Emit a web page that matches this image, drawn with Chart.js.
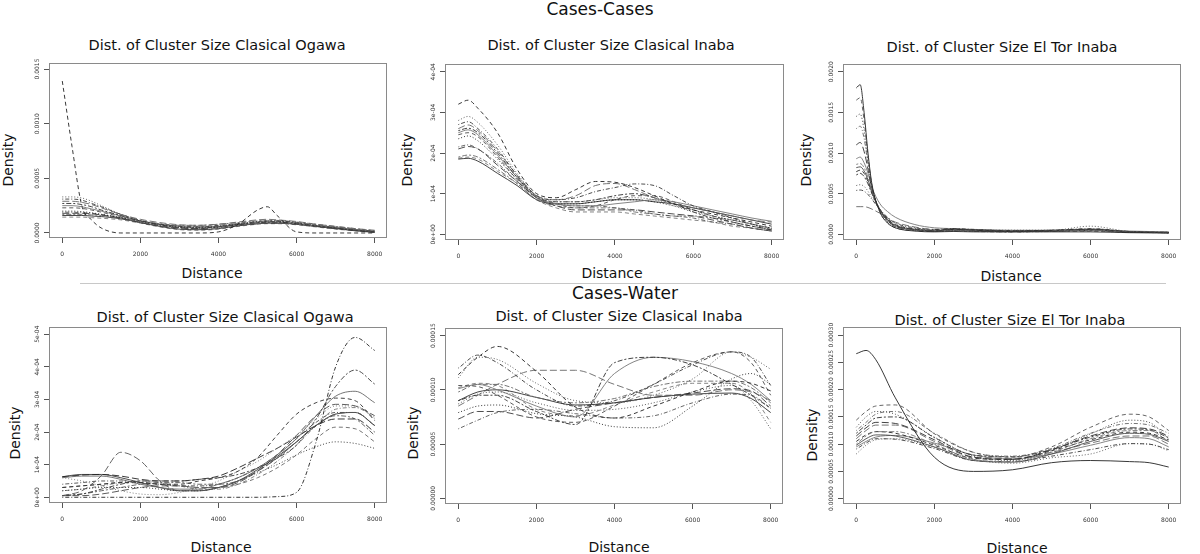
<!DOCTYPE html>
<html>
<head>
<meta charset="utf-8">
<title>Dist. of Cluster Size</title>
<script src="https://cdn.jsdelivr.net/npm/chart.js@4.4.1/dist/chart.umd.min.js"></script>
<style>
  body { margin: 0; background: #fff; }
  #page { position: relative; width: 1200px; height: 554px; overflow: hidden; font-family: 'DejaVu Sans', sans-serif; color: #111; }
  .lbl { position: absolute; white-space: nowrap; line-height: 1; transform: translate(-50%, -50%); }
  .main { font-size: 17px; }
  .title { font-size: 14.5px; }
  .axis { font-size: 14px; }
  .ylab { transform: translate(-50%, -50%) rotate(-90deg); }
  canvas { position: absolute; }
  #rule { position: absolute; left: 80px; top: 283px; width: 1086px; border-top: 1px solid #c8c8c8; }
</style>
</head>
<body>
<div id="page">
  <div class="lbl main" style="left:600px;top:9px">Cases-Cases</div>
  <div id="rule"></div>
  <div class="lbl main" style="left:625px;top:293px">Cases-Water</div>

  <div class="lbl title" style="left:217px;top:45px">Dist. of Cluster Size Clasical Ogawa</div>
  <div class="lbl title" style="left:611px;top:45px">Dist. of Cluster Size Clasical Inaba</div>
  <div class="lbl title" style="left:1002px;top:47px">Dist. of Cluster Size El Tor Inaba</div>
  <div class="lbl title" style="left:225px;top:317px">Dist. of Cluster Size Clasical Ogawa</div>
  <div class="lbl title" style="left:619px;top:316px">Dist. of Cluster Size Clasical Inaba</div>
  <div class="lbl title" style="left:1010px;top:320px">Dist. of Cluster Size El Tor Inaba</div>

  <div class="lbl axis" style="left:212px;top:273px">Distance</div>
  <div class="lbl axis" style="left:612px;top:273px">Distance</div>
  <div class="lbl axis" style="left:1011px;top:276px">Distance</div>
  <div class="lbl axis" style="left:221px;top:547px">Distance</div>
  <div class="lbl axis" style="left:619px;top:547px">Distance</div>
  <div class="lbl axis" style="left:1017px;top:548px">Distance</div>

  <div class="lbl axis ylab" style="left:8px;top:160px">Density</div>
  <div class="lbl axis ylab" style="left:407px;top:160px">Density</div>
  <div class="lbl axis ylab" style="left:806px;top:160px">Density</div>
  <div class="lbl axis ylab" style="left:15px;top:433px">Density</div>
  <div class="lbl axis ylab" style="left:413px;top:433px">Density</div>
  <div class="lbl axis ylab" style="left:812px;top:435px">Density</div>
</div>

<script>
// all density values below in units of 1e-5
const unit = 1e-5;
const xTicks = ['0', '2000', '4000', '6000', '8000'];

// Cases-Cases, Clasical Ogawa
const ccOgawaX = [0, 250, 500, 750, 1000, 1500, 2000, 2500, 3000, 3500, 4000, 4500, 5000, 5250, 5500, 6000, 6500, 7000, 7500, 8000];
const ccOgawa = [
  [139, 79, 25, 12, 4.5, 0, 0, 0, 0, 0, 1, 8, 21, 24, 16, 1, 0, 0, 0, 0],
  [33, 33, 32, 29, 25, 17, 11, 7, 5, 5, 6, 8, 10, 10.5, 10.5, 9, 7, 5, 3, 1.5],
  [31, 31, 30, 27, 24, 17, 11.5, 8, 6, 5.5, 6.5, 8.5, 10.5, 11, 11, 9.5, 7, 5, 3, 1.5],
  [29, 29, 28, 26, 23, 17, 12.5, 9.5, 7.5, 7, 8, 10, 12, 12.5, 12, 10.5, 8, 6, 4, 2.5],
  [27, 27, 26, 24, 21, 16, 11, 7.5, 5, 4.5, 5.5, 7.5, 9.5, 10, 10, 8.5, 6.5, 4.5, 2.5, 1],
  [25, 25, 24, 22, 20, 15.5, 11, 8, 6, 5.5, 6, 7.5, 9, 9.5, 9.5, 8.5, 6.5, 5, 3, 1.5],
  [23, 23, 22.5, 21, 19, 15, 11, 8, 6.5, 6, 7, 8.5, 10, 10.5, 10.5, 9, 7, 5, 3, 1.5],
  [20, 20, 19.5, 18.5, 17, 14, 10.5, 7.5, 5.5, 5, 6, 8, 9.5, 10, 10, 8.5, 6.5, 4.5, 2.5, 1],
  [19, 19, 18.5, 18, 17, 14, 10, 7, 5, 4.5, 5.5, 7.5, 9, 9.5, 9.5, 8, 6, 4, 2.5, 1],
  [18, 18, 18, 17.5, 16.5, 13.5, 9.5, 6.5, 4.5, 4, 5, 7, 8.5, 9, 9, 8, 6, 4, 2.5, 1],
  [17, 17, 17, 16.5, 16, 14, 11, 8.5, 7, 7, 8, 9.5, 11, 11.5, 11.5, 10, 8, 6, 4, 2],
  [16, 16, 16, 15.5, 15, 13, 9.5, 6, 3.5, 3, 4, 6.5, 8.5, 9, 9, 8, 6, 4, 2, 0.5],
  [14.5, 14.5, 14.5, 14, 13.5, 12, 9, 5.5, 3, 2.5, 3.5, 6, 8, 8.5, 8.5, 7.5, 5.5, 3.5, 2, 0.5]
];
const ccOgawaTicks = ['0.0000', '0.0005', '0.0010', '0.0015'];

// Cases-Cases, Clasical Inaba
const ccInabaX = [0, 250, 500, 1000, 1500, 2000, 2500, 3000, 3500, 4000, 4500, 5000, 5500, 6000, 6500, 7000, 7500, 8000];
const ccInaba = [
  [32, 33, 31, 25, 16, 10, 9, 11, 13, 12.8, 11.5, 9.5, 7.5, 6, 5, 4, 3, 2],
  [28, 29, 27.5, 22, 15, 9.5, 8, 8, 8.5, 9, 9, 8.5, 7, 5.5, 4.5, 3.5, 2.5, 1.5],
  [27, 27.7, 26, 21, 14.5, 9.5, 8.5, 9, 10.5, 11.5, 12.4, 12, 9.5, 7, 5.5, 4, 2.5, 1],
  [26, 26.9, 25.5, 20.5, 14.5, 9.5, 8.5, 9.5, 12, 12.5, 11, 9, 7.5, 6.5, 5.5, 4.5, 3.5, 3],
  [25.5, 26.1, 25, 20, 14, 9.3, 8, 8, 8.5, 9.5, 10, 9, 7.5, 5.5, 4, 3, 2, 1.2],
  [25, 25.7, 24.5, 19.5, 14, 9, 7.5, 7, 7, 7.5, 8, 8.5, 8, 7, 6, 5, 4, 3.2],
  [24.5, 25, 24, 19, 13.5, 9, 7.5, 6.5, 7, 8.5, 9.5, 9.5, 8, 6, 4.5, 3, 2, 1],
  [23.5, 24.2, 23, 18.5, 13.5, 9, 7.5, 7.5, 8, 8.5, 8.5, 8, 7, 6, 4.5, 3.5, 2.5, 1.5],
  [21.5, 22, 21, 17.5, 13, 9, 7.5, 7, 7, 6.5, 6, 5, 4.5, 4, 3, 2.5, 1.5, 0.8],
  [21, 21.6, 21, 17, 13, 9, 7, 6, 6, 6, 6, 5.5, 5, 4.5, 3.5, 2.5, 1.5, 0.8],
  [19, 19.5, 19, 16, 12.5, 8.5, 7, 6.5, 6.5, 6.5, 5.5, 5, 4.5, 4.5, 4, 3.5, 2.5, 1.5],
  [18.5, 18.7, 18, 15, 12, 8.5, 7.5, 7.5, 8, 8.5, 8.5, 8, 7.5, 6.5, 5.5, 4.5, 3.5, 2.5],
  [18.7, 19, 18.5, 15.5, 12.5, 8.5, 6.5, 5.5, 5.5, 5.5, 5, 4.5, 4, 3.5, 3, 2, 1.5, 0.8]
];
const ccInabaTicks = ['0e+00', '1e-04', '2e-04', '3e-04', '4e-04'];

// Cases-Cases, El Tor Inaba
const ccTorX = [0, 100, 200, 300, 400, 600, 800, 1000, 1500, 2000, 2500, 3000, 4000, 5000, 6000, 7000, 8000];
const ccTor = [
  [180, 184, 150, 100, 62, 28, 14, 8, 4, 3, 3.5, 3, 3, 3, 3, 2, 1.5],
  [165, 168, 140, 96, 60, 28, 14, 8, 4.5, 3.5, 5, 4, 3, 4, 4, 2.5, 2],
  [145, 148, 128, 90, 58, 30, 16, 10, 6, 4, 5, 6, 4, 4, 7, 3, 2],
  [130, 133, 118, 86, 57, 30, 16, 9, 5, 3.5, 4.5, 3.5, 3, 3.5, 5, 2.5, 2],
  [110, 113, 102, 80, 56, 30, 17, 10, 5.5, 4, 6, 5, 3.5, 5, 6, 3, 2],
  [86, 87, 82, 70, 54, 30, 17, 10, 5.5, 4, 5, 4, 3, 4, 5, 3, 2.5],
  [82, 83, 78, 67, 52, 31, 18, 11, 6, 4.5, 6, 5, 3.5, 4, 6, 3, 2],
  [77, 79, 75, 65, 51, 31, 19, 12, 6.5, 5, 6.5, 5, 4, 4.5, 5, 3, 2],
  [60, 61, 59, 53, 45, 31, 20, 13, 7, 5, 6, 5, 5, 5, 10, 3.5, 2.5],
  [54, 54.5, 53, 49, 43, 31, 21, 14, 8, 6, 7, 6, 4.5, 5, 7, 3.5, 2.5],
  [34, 34, 34, 33, 31, 26, 20, 15, 9, 6, 6.5, 5.5, 4, 4.5, 6, 3, 2.5],
  [73, 75, 71, 62, 50, 30, 18, 11, 6, 4, 5, 4, 3.5, 4, 4.5, 3, 2],
  [93, 95, 88, 75, 58, 38, 28, 21, 12, 8, 7, 6, 5, 5, 6, 4, 3]
];
const ccTorTicks = ['0.0000', '0.0005', '0.0010', '0.0015', '0.0020'];

// Cases-Water, Clasical Ogawa
const cwOgawaX = [0, 500, 1000, 1500, 2000, 2500, 3000, 3500, 4000, 4500, 5000, 5500, 6000, 6500, 7000, 7500, 8000];
const cwOgawa = [
  [0, 0, 0, 0, 0, 0, 0, 0, 0, 0, 0, 0.2, 1.5, 17, 40, 49, 45],
  [0.5, 2, 6.6, 13.8, 11.2, 5, 2, 2, 3, 5, 8, 12, 17, 22, 25.5, 26, 22],
  [0.5, 1, 2.5, 4, 5, 5, 5, 5.5, 6, 7, 9, 12, 16, 24, 34, 39, 34.7],
  [6, 6.5, 6.5, 5.5, 4, 3, 2.5, 2.5, 4, 6, 9, 13, 18, 25, 31, 32.5, 29],
  [3, 3.5, 4, 4.5, 4.5, 4, 4, 5, 6, 8, 12.2, 19, 25.5, 29, 30.4, 29.6, 23.5],
  [6, 5, 3.5, 2, 1, 0.8, 1.5, 3, 5, 8, 11, 15, 19, 24, 28, 28, 24],
  [4, 4.5, 5, 5, 4.5, 4, 3.5, 3.5, 4, 6, 9, 13, 18, 23, 26, 26, 22],
  [6.3, 6.8, 7, 6.5, 5.5, 5, 5, 5.5, 6.5, 9, 12, 15, 18.5, 22, 24, 24, 20],
  [0.5, 1, 2, 3, 4, 4.5, 4.5, 4, 4, 5, 8, 12, 17, 22, 25, 24, 19],
  [6.3, 7, 7, 6, 4.5, 3, 2, 2, 3, 5, 8.5, 12.5, 17, 22, 25.5, 26, 22],
  [3, 3.5, 4, 4.5, 4.5, 4, 3.5, 3, 3, 4, 6, 9, 13, 18, 21.5, 21, 17],
  [2, 2.5, 3, 3, 3, 2.5, 2, 2, 3, 5, 7.5, 10, 13, 15.5, 17, 16.5, 15],
  [2, 2.5, 3.5, 4.5, 5, 4.5, 3.5, 2.5, 2.5, 4, 7, 11, 16, 22, 27, 27.5, 24.5],
  [0.5, 0.5, 1, 2, 3, 3.5, 3.5, 3, 3, 4.5, 8, 13, 19, 25, 28.5, 28, 25]
];
const cwOgawaTicks = ['0e+00', '1e-04', '2e-04', '3e-04', '4e-04', '5e-04'];

// Cases-Water, Clasical Inaba
const cwInabaX = [0, 500, 1000, 2000, 3000, 4000, 5000, 6000, 7000, 7500, 8000];
const cwInaba = [
  [11.4, 13, 14, 11.7, 8.4, 7.4, 8.5, 9.8, 10.8, 10.6, 9.9],
  [11.1, 13, 12.8, 10.6, 9, 8.8, 9.5, 11, 13.5, 13, 11.9],
  [12, 13.2, 12.5, 10, 8.5, 9, 10.5, 12.3, 13.5, 13, 10.4],
  [8.5, 9.5, 10.5, 11.8, 11.8, 10.5, 9.5, 9.5, 10, 9.8, 9],
  [9, 9.5, 9.5, 8, 6.8, 12.5, 13, 12.3, 10.5, 9.5, 8.3],
  [10.1, 10.5, 10, 8.5, 7.5, 11.5, 13, 12.6, 11.5, 10.5, 9],
  [10.4, 10.3, 9.5, 7.5, 7, 8.5, 10.5, 12.5, 13.5, 12.5, 9.5],
  [7.9, 8.5, 8.6, 7.8, 7.5, 6.6, 6.5, 8.5, 11, 11.5, 10.5],
  [6.4, 7.2, 7.9, 8.2, 7.8, 7.4, 7.6, 8.8, 9.6, 9.5, 8.3],
  [7.3, 8, 8, 7.4, 8.2, 8.8, 9.3, 9.7, 10.1, 9.9, 8.5],
  [9.8, 10.5, 10.5, 9.3, 8.8, 9.2, 10.3, 10.8, 10.8, 10.2, 8.8],
  [9, 9.8, 10, 9.3, 8.6, 8.8, 9.3, 9.6, 9.7, 9.2, 7.9],
  [10.2, 10.6, 10.4, 8.2, 7.6, 8.6, 9.8, 10.6, 10.6, 9.6, 7],
  [8.7, 9.6, 9.8, 8.8, 8.1, 8.2, 8.8, 9.8, 10.4, 9, 6.4]
];
const cwInabaTicks = ['0.00000', '0.00005', '0.00010', '0.00015'];

// Cases-Water, El Tor Inaba
const cwTorX = [0, 250, 500, 1000, 2000, 3000, 4000, 5000, 6000, 7000, 7500, 8000];
const cwTor = [
  [26.6, 27.2, 25.5, 18.5, 7.6, 5.0, 5.3, 6.6, 7, 6.8, 6.6, 5.8],
  [14.4, 16, 17, 17.2, 11.9, 8.5, 7.6, 9.5, 13.1, 15.5, 15, 12.5],
  [13.1, 15, 16, 15.5, 11.3, 7.8, 7, 8.8, 11.9, 14.4, 14, 11],
  [12.5, 14, 15.5, 16, 12, 8.5, 7.8, 9.2, 12, 13.8, 13.5, 12],
  [11.5, 13, 14, 13.8, 10.8, 7.6, 7.2, 9, 11.5, 13, 12.8, 11.5],
  [10, 11.5, 12.3, 12.3, 10, 7.2, 6.8, 8.5, 11, 12.5, 12.5, 10.5],
  [9.8, 11, 11.7, 11.5, 9.5, 7, 6.7, 8.2, 10.5, 12, 11.8, 10.5],
  [10.5, 11.7, 12.3, 12, 9.8, 7.4, 7.2, 8.8, 10.8, 12.2, 12, 10.8],
  [8.2, 9.8, 10.8, 11, 9.4, 7.2, 6.5, 7.5, 8.2, 10.1, 10, 8.8],
  [9.1, 10.2, 11, 10.9, 9.2, 7, 6.8, 7.8, 9, 10.1, 10, 9],
  [11, 12.5, 13.5, 13.5, 10.5, 7.6, 7.4, 8.5, 10.2, 11.5, 11.5, 10],
  [12, 13.5, 14.8, 15, 11.2, 8, 7.7, 9, 11.3, 12.8, 12.6, 11.2],
  [9.5, 10.5, 11.3, 11.6, 10.2, 8, 7.3, 8.2, 9.8, 11.2, 11, 9.5]
];
const cwTorTicks = ['0.00000', '0.00005', '0.00010', '0.00015', '0.00020', '0.00025', '0.00030'];

// R line types: solid, dashed, dotted, dotdash, longdash, twodash
const dashes = [[], [4, 3], [1, 2], [1, 2, 4, 2], [7, 3], [2, 2, 5, 2]];
const greys = ['#222', '#555', '#3a3a3a', '#666', '#2e2e2e', '#777', '#484848'];

// box = plot frame in page pixels [left, top, right, bottom]; yMin/yMax in data units
// lty = line type of the first curve, the rest cycle on from it
const panels = [
  { xs: ccOgawaX, curves: ccOgawa, ticks: ccOgawaTicks, yMin: -4.6, yMax: 155.5, box: [49, 63, 387, 238], lty: 1 },
  { xs: ccInabaX, curves: ccInaba, ticks: ccInabaTicks, yMin: -1.4, yMax: 41.9, box: [445, 64, 784, 240], lty: 1 },
  { xs: ccTorX, curves: ccTor, ticks: ccTorTicks, yMin: -7, yMax: 209.5, box: [843, 64, 1181, 240], lty: 0 },
  { xs: cwOgawaX, curves: cwOgawa, ticks: cwOgawaTicks, yMin: -1.75, yMax: 52.2, box: [49, 327, 387, 503], lty: 3 },
  { xs: cwInabaX, curves: cwInaba, ticks: cwInabaTicks, yMin: -0.53, yMax: 15.7, box: [445, 328, 783, 504], lty: 1 },
  { xs: cwTorX, curves: cwTor, ticks: cwTorTicks, yMin: -0.98, yMax: 31.5, box: [843, 327, 1181, 504], lty: 0 }
];

// frame around the plot and y labels written along the axis, like base R graphics
const makeFrame = (labels) => ({
  id: 'rframe',
  afterDraw(chart) {
    const { ctx, chartArea: a } = chart;
    const y = chart.scales.y;
    ctx.save();
    ctx.strokeStyle = '#8a8a8a';
    ctx.lineWidth = 1;
    ctx.strokeRect(Math.round(a.left) + 0.5, Math.round(a.top) + 0.5,
      Math.round(a.right - a.left) - 1, Math.round(a.bottom - a.top) - 1);
    ctx.fillStyle = '#333';
    ctx.font = '6px "DejaVu Sans"';
    ctx.textAlign = 'center';
    ctx.textBaseline = 'middle';
    labels.forEach(lab => {
      ctx.save();
      ctx.translate(a.left - 12, y.getPixelForValue(Number(lab)));
      ctx.rotate(-Math.PI / 2);
      ctx.fillText(lab, 0, 0);
      ctx.restore();
    });
    ctx.restore();
  }
});

const page = document.getElementById('page');

panels.forEach(p => {
  const [L, T, R, B] = p.box;
  const w = R - L + 50;
  const h = B - T + 30;
  const cv = document.createElement('canvas');
  cv.width = w;
  cv.height = h;
  cv.style.left = (L - 45) + 'px';
  cv.style.top = (T - 5) + 'px';
  cv.style.width = w + 'px';
  cv.style.height = h + 'px';
  page.appendChild(cv);

  new Chart(cv, {
    type: 'line',
    data: {
      datasets: p.curves.map((ys, i) => ({
        data: ys.map((v, j) => ({ x: p.xs[j], y: v * unit })),
        borderColor: greys[i % greys.length],
        borderWidth: 0.9,
        borderDash: dashes[(i + p.lty) % dashes.length],
        pointRadius: 0,
        cubicInterpolationMode: 'monotone',
        fill: false
      }))
    },
    options: {
      responsive: false,
      animation: false,
      devicePixelRatio: 1,
      layout: { padding: { top: 5, right: 5, left: 0, bottom: 0 } },
      plugins: { legend: { display: false }, tooltip: { enabled: false } },
      scales: {
        x: {
          type: 'linear',
          min: -340,
          max: 8315,
          afterFit: s => { s.height = 25; },
          afterBuildTicks: s => { s.ticks = xTicks.map(t => ({ value: Number(t) })); },
          grid: { drawOnChartArea: false, tickLength: 5, color: '#555' },
          border: { display: false },
          ticks: {
            font: { size: 6, family: 'DejaVu Sans' },
            color: '#333',
            padding: 8,
            maxRotation: 0,
            autoSkip: false,
            callback: v => String(v)
          }
        },
        y: {
          min: p.yMin * unit,
          max: p.yMax * unit,
          afterFit: s => { s.width = 45; },
          afterBuildTicks: s => { s.ticks = p.ticks.map(t => ({ value: Number(t) })); },
          grid: { drawOnChartArea: false, tickLength: 5, color: '#555' },
          border: { display: false },
          ticks: { display: false }
        }
      }
    },
    plugins: [makeFrame(p.ticks)]
  });
});
</script>
</body>
</html>
